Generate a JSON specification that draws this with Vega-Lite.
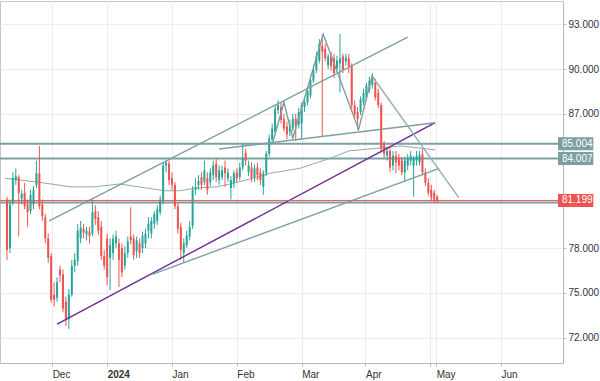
{
  "$schema": "https://vega.github.io/schema/vega-lite/v6.json",
  "width": 563,
  "height": 362,
  "autosize": {"type": "none"},
  "padding": {"left": 0, "top": 1, "right": 37, "bottom": 18},
  "background": "white",
  "config": {
    "view": {"stroke": "#c4c7cc"},
    "font": "Liberation Sans",
    "axis": {"labelFont": "Liberation Sans", "labelFontSize": 10, "labelColor": "#333333", "gridColor": "#ededed", "domainColor": "#b4b7bc", "tickColor": "#b4b7bc"}
  },
  "datasets": {
    "candles": [
      {"i":0,"o":81.26,"h":81.45,"l":77.21,"c":77.87,"d":"down"},
      {"i":1,"o":78.00,"h":81.26,"l":77.67,"c":80.93,"d":"up"},
      {"i":2,"o":81.06,"h":83.08,"l":80.87,"c":82.69,"d":"up"},
      {"i":3,"o":82.56,"h":83.35,"l":82.24,"c":82.82,"d":"up"},
      {"i":4,"o":82.76,"h":82.89,"l":78.78,"c":81.71,"d":"down"},
      {"i":5,"o":81.32,"h":81.91,"l":80.93,"c":81.65,"d":"up"},
      {"i":6,"o":81.71,"h":82.37,"l":80.61,"c":80.80,"d":"down"},
      {"i":7,"o":80.93,"h":81.26,"l":79.43,"c":80.41,"d":"down"},
      {"i":8,"o":80.48,"h":81.91,"l":80.28,"c":81.58,"d":"up"},
      {"i":9,"o":80.93,"h":82.17,"l":80.61,"c":81.91,"d":"up"},
      {"i":10,"o":82.24,"h":83.87,"l":82.04,"c":83.02,"d":"up"},
      {"i":11,"o":83.02,"h":84.85,"l":80.61,"c":80.80,"d":"down"},
      {"i":12,"o":80.93,"h":81.26,"l":79.82,"c":80.15,"d":"down"},
      {"i":13,"o":80.08,"h":80.28,"l":78.32,"c":78.65,"d":"down"},
      {"i":14,"o":78.65,"h":78.98,"l":77.02,"c":77.34,"d":"down"},
      {"i":15,"o":77.47,"h":77.67,"l":74.34,"c":74.54,"d":"down"},
      {"i":16,"o":74.87,"h":75.71,"l":74.08,"c":74.54,"d":"down"},
      {"i":17,"o":74.67,"h":76.04,"l":74.41,"c":75.71,"d":"up"},
      {"i":18,"o":76.56,"h":76.82,"l":75.71,"c":76.17,"d":"down"},
      {"i":19,"o":76.24,"h":76.56,"l":73.69,"c":73.95,"d":"down"},
      {"i":20,"o":74.41,"h":74.74,"l":72.78,"c":73.23,"d":"down"},
      {"i":21,"o":73.23,"h":75.26,"l":72.58,"c":74.87,"d":"up"},
      {"i":22,"o":74.87,"h":77.21,"l":74.74,"c":76.82,"d":"up"},
      {"i":23,"o":76.82,"h":77.67,"l":76.37,"c":77.21,"d":"up"},
      {"i":24,"o":77.15,"h":79.63,"l":76.82,"c":79.17,"d":"up"},
      {"i":25,"o":78.65,"h":79.82,"l":78.32,"c":79.37,"d":"up"},
      {"i":26,"o":79.30,"h":79.63,"l":78.65,"c":79.04,"d":"down"},
      {"i":27,"o":78.91,"h":79.43,"l":78.52,"c":79.17,"d":"up"},
      {"i":28,"o":79.11,"h":79.43,"l":78.32,"c":78.84,"d":"down"},
      {"i":29,"o":78.98,"h":81.26,"l":78.78,"c":80.41,"d":"up"},
      {"i":30,"o":80.48,"h":80.87,"l":79.56,"c":79.95,"d":"down"},
      {"i":31,"o":80.08,"h":80.48,"l":78.91,"c":79.17,"d":"down"},
      {"i":32,"o":79.43,"h":79.82,"l":77.21,"c":77.47,"d":"down"},
      {"i":33,"o":77.47,"h":77.87,"l":76.56,"c":76.82,"d":"down"},
      {"i":34,"o":78.65,"h":78.98,"l":75.52,"c":76.04,"d":"down"},
      {"i":35,"o":77.34,"h":78.65,"l":75.19,"c":78.19,"d":"up"},
      {"i":36,"o":77.67,"h":78.91,"l":77.21,"c":78.65,"d":"up"},
      {"i":37,"o":78.32,"h":79.17,"l":78.00,"c":78.78,"d":"up"},
      {"i":38,"o":78.32,"h":78.65,"l":75.39,"c":77.21,"d":"down"},
      {"i":39,"o":78.00,"h":78.32,"l":76.04,"c":76.37,"d":"down"},
      {"i":40,"o":76.82,"h":78.13,"l":76.56,"c":77.67,"d":"up"},
      {"i":41,"o":77.67,"h":78.78,"l":77.34,"c":78.45,"d":"up"},
      {"i":42,"o":78.78,"h":80.74,"l":78.26,"c":78.52,"d":"down"},
      {"i":43,"o":78.65,"h":78.91,"l":77.21,"c":77.54,"d":"down"},
      {"i":44,"o":77.80,"h":78.78,"l":77.34,"c":78.52,"d":"up"},
      {"i":45,"o":78.32,"h":78.65,"l":77.34,"c":77.67,"d":"down"},
      {"i":46,"o":78.00,"h":79.11,"l":77.67,"c":78.84,"d":"up"},
      {"i":47,"o":78.32,"h":79.30,"l":78.00,"c":78.98,"d":"up"},
      {"i":48,"o":79.17,"h":80.08,"l":78.65,"c":79.63,"d":"up"},
      {"i":49,"o":78.98,"h":80.08,"l":78.65,"c":79.82,"d":"up"},
      {"i":50,"o":79.63,"h":80.48,"l":79.30,"c":80.28,"d":"up"},
      {"i":51,"o":79.82,"h":80.87,"l":79.56,"c":80.61,"d":"up"},
      {"i":52,"o":80.41,"h":81.52,"l":80.21,"c":81.26,"d":"up"},
      {"i":53,"o":81.13,"h":83.74,"l":80.93,"c":83.54,"d":"up"},
      {"i":54,"o":83.54,"h":83.87,"l":83.08,"c":83.74,"d":"up"},
      {"i":55,"o":83.67,"h":83.87,"l":82.24,"c":82.56,"d":"down"},
      {"i":56,"o":82.69,"h":83.08,"l":81.91,"c":82.24,"d":"down"},
      {"i":57,"o":82.24,"h":82.43,"l":80.61,"c":80.80,"d":"down"},
      {"i":58,"o":80.80,"h":81.06,"l":78.98,"c":79.30,"d":"down"},
      {"i":59,"o":79.43,"h":79.69,"l":77.21,"c":77.87,"d":"down"},
      {"i":60,"o":77.67,"h":78.65,"l":77.02,"c":78.32,"d":"up"},
      {"i":61,"o":78.19,"h":79.17,"l":78.00,"c":78.84,"d":"up"},
      {"i":62,"o":78.78,"h":79.82,"l":78.52,"c":79.43,"d":"up"},
      {"i":63,"o":79.50,"h":82.17,"l":79.30,"c":81.91,"d":"up"},
      {"i":64,"o":81.91,"h":82.69,"l":81.58,"c":82.11,"d":"up"},
      {"i":65,"o":82.24,"h":82.89,"l":81.91,"c":82.50,"d":"up"},
      {"i":66,"o":82.76,"h":83.08,"l":81.91,"c":82.24,"d":"down"},
      {"i":67,"o":82.43,"h":83.87,"l":82.24,"c":83.22,"d":"up"},
      {"i":68,"o":82.69,"h":83.08,"l":81.58,"c":81.91,"d":"down"},
      {"i":69,"o":82.43,"h":83.35,"l":82.17,"c":83.08,"d":"up"},
      {"i":70,"o":82.89,"h":83.87,"l":82.56,"c":83.54,"d":"up"},
      {"i":71,"o":83.67,"h":84.00,"l":82.43,"c":82.76,"d":"down"},
      {"i":72,"o":82.56,"h":83.54,"l":82.24,"c":83.22,"d":"up"},
      {"i":73,"o":82.76,"h":83.54,"l":82.56,"c":83.22,"d":"up"},
      {"i":74,"o":83.41,"h":83.87,"l":82.11,"c":83.02,"d":"down"},
      {"i":75,"o":82.69,"h":83.35,"l":82.43,"c":83.08,"d":"up"},
      {"i":76,"o":82.04,"h":82.82,"l":81.26,"c":82.56,"d":"up"},
      {"i":77,"o":82.37,"h":83.22,"l":82.04,"c":83.02,"d":"up"},
      {"i":78,"o":83.08,"h":83.35,"l":82.43,"c":82.69,"d":"down"},
      {"i":79,"o":82.76,"h":83.74,"l":82.56,"c":83.41,"d":"up"},
      {"i":80,"o":83.41,"h":84.98,"l":83.22,"c":84.00,"d":"up"},
      {"i":81,"o":84.39,"h":84.65,"l":83.54,"c":83.87,"d":"down"},
      {"i":82,"o":83.08,"h":83.87,"l":82.82,"c":83.54,"d":"up"},
      {"i":83,"o":83.41,"h":83.74,"l":82.43,"c":82.69,"d":"down"},
      {"i":84,"o":82.76,"h":83.61,"l":82.43,"c":83.35,"d":"up"},
      {"i":85,"o":83.41,"h":83.74,"l":82.56,"c":82.89,"d":"down"},
      {"i":86,"o":83.08,"h":83.35,"l":82.24,"c":82.56,"d":"down"},
      {"i":87,"o":82.11,"h":83.22,"l":81.58,"c":83.02,"d":"up"},
      {"i":88,"o":83.02,"h":84.52,"l":82.82,"c":84.32,"d":"up"},
      {"i":89,"o":84.32,"h":85.63,"l":84.13,"c":85.37,"d":"up"},
      {"i":90,"o":85.30,"h":86.35,"l":85.04,"c":86.02,"d":"up"},
      {"i":91,"o":85.82,"h":87.59,"l":85.69,"c":87.32,"d":"up"},
      {"i":92,"o":87.26,"h":87.91,"l":87.00,"c":87.59,"d":"up"},
      {"i":93,"o":87.46,"h":87.78,"l":86.35,"c":86.61,"d":"down"},
      {"i":94,"o":86.67,"h":87.00,"l":85.82,"c":86.02,"d":"down"},
      {"i":95,"o":86.15,"h":86.48,"l":85.30,"c":85.63,"d":"down"},
      {"i":96,"o":85.82,"h":86.61,"l":85.50,"c":86.28,"d":"up"},
      {"i":97,"o":86.02,"h":87.00,"l":85.82,"c":86.67,"d":"up"},
      {"i":98,"o":86.67,"h":87.00,"l":85.17,"c":86.15,"d":"down"},
      {"i":99,"o":86.28,"h":87.39,"l":86.02,"c":87.13,"d":"up"},
      {"i":100,"o":86.35,"h":87.78,"l":85.30,"c":87.59,"d":"up"},
      {"i":101,"o":87.46,"h":88.04,"l":87.13,"c":87.78,"d":"up"},
      {"i":102,"o":87.78,"h":88.83,"l":87.59,"c":88.56,"d":"up"},
      {"i":103,"o":88.24,"h":89.54,"l":88.04,"c":89.28,"d":"up"},
      {"i":104,"o":89.22,"h":90.26,"l":89.09,"c":89.93,"d":"up"},
      {"i":105,"o":89.93,"h":91.17,"l":89.74,"c":90.85,"d":"up"},
      {"i":106,"o":90.59,"h":92.02,"l":90.39,"c":91.70,"d":"up"},
      {"i":107,"o":91.56,"h":92.35,"l":85.50,"c":91.17,"d":"down"},
      {"i":108,"o":91.37,"h":91.70,"l":90.52,"c":90.72,"d":"down"},
      {"i":109,"o":90.26,"h":91.04,"l":90.00,"c":90.85,"d":"up"},
      {"i":110,"o":90.91,"h":91.17,"l":89.87,"c":90.20,"d":"down"},
      {"i":111,"o":90.72,"h":91.04,"l":89.41,"c":89.74,"d":"down"},
      {"i":112,"o":90.06,"h":90.91,"l":89.87,"c":90.59,"d":"up"},
      {"i":113,"o":90.39,"h":92.35,"l":88.43,"c":90.72,"d":"up"},
      {"i":114,"o":90.85,"h":91.04,"l":89.74,"c":89.93,"d":"down"},
      {"i":115,"o":90.52,"h":91.04,"l":90.26,"c":90.78,"d":"up"},
      {"i":116,"o":90.72,"h":91.04,"l":89.74,"c":90.20,"d":"down"},
      {"i":117,"o":90.20,"h":90.39,"l":87.26,"c":87.59,"d":"down"},
      {"i":118,"o":87.59,"h":87.91,"l":86.74,"c":87.00,"d":"down"},
      {"i":119,"o":87.13,"h":87.46,"l":85.96,"c":86.67,"d":"down"},
      {"i":120,"o":87.13,"h":88.17,"l":86.93,"c":87.98,"d":"up"},
      {"i":121,"o":87.78,"h":88.69,"l":87.59,"c":88.43,"d":"up"},
      {"i":122,"o":88.11,"h":89.09,"l":87.91,"c":88.89,"d":"up"},
      {"i":123,"o":88.63,"h":89.48,"l":88.43,"c":89.22,"d":"up"},
      {"i":124,"o":88.96,"h":89.74,"l":88.69,"c":89.48,"d":"up"},
      {"i":125,"o":89.09,"h":89.35,"l":87.91,"c":88.11,"d":"down"},
      {"i":126,"o":88.43,"h":88.69,"l":87.39,"c":87.59,"d":"down"},
      {"i":127,"o":87.59,"h":87.78,"l":84.39,"c":84.65,"d":"down"},
      {"i":128,"o":84.98,"h":85.17,"l":84.06,"c":84.32,"d":"down"},
      {"i":129,"o":84.19,"h":84.78,"l":83.87,"c":84.52,"d":"up"},
      {"i":130,"o":84.52,"h":84.72,"l":83.08,"c":83.41,"d":"down"},
      {"i":131,"o":83.54,"h":84.52,"l":83.22,"c":84.19,"d":"up"},
      {"i":132,"o":84.19,"h":84.52,"l":83.02,"c":83.74,"d":"down"},
      {"i":133,"o":84.06,"h":84.32,"l":83.22,"c":83.54,"d":"down"},
      {"i":134,"o":83.87,"h":84.13,"l":82.89,"c":83.08,"d":"down"},
      {"i":135,"o":83.08,"h":84.13,"l":82.43,"c":83.87,"d":"up"},
      {"i":136,"o":83.54,"h":84.32,"l":83.22,"c":84.06,"d":"up"},
      {"i":137,"o":83.87,"h":84.52,"l":83.54,"c":84.19,"d":"up"},
      {"i":138,"o":83.54,"h":84.19,"l":81.45,"c":84.00,"d":"up"},
      {"i":139,"o":83.87,"h":84.52,"l":83.54,"c":84.19,"d":"up"},
      {"i":140,"o":83.74,"h":84.52,"l":83.54,"c":84.26,"d":"up"},
      {"i":141,"o":84.32,"h":84.65,"l":82.89,"c":83.08,"d":"down"},
      {"i":142,"o":83.08,"h":83.35,"l":82.17,"c":82.37,"d":"down"},
      {"i":143,"o":82.37,"h":82.69,"l":81.52,"c":81.71,"d":"down"},
      {"i":144,"o":81.91,"h":82.24,"l":81.13,"c":81.39,"d":"down"},
      {"i":145,"o":81.71,"h":81.91,"l":81.00,"c":81.26,"d":"down"},
      {"i":146,"o":81.45,"h":81.58,"l":81.06,"c":81.20,"d":"down"}
    ],
    "lines": [
      {"id":"channel","i":14.33,"p":79.82},{"id":"channel","i":136,"p":92.15},
      {"id":"support","i":17,"p":72.91},{"id":"support","i":145.33,"p":86.41},
      {"id":"lower","i":49.33,"p":76.24},{"id":"lower","i":146.67,"p":83.35},
      {"id":"neckline","i":72,"p":84.65},{"id":"neckline","i":145.33,"p":86.41},
      {"id":"downtrend","i":123.67,"p":89.61},{"id":"downtrend","i":153.33,"p":81.39},
      {"id":"pattern","i":90.33,"p":85.17},{"id":"pattern","i":94,"p":87.78},{"id":"pattern","i":97,"p":85.37},
      {"id":"pattern","i":107.33,"p":92.35},{"id":"pattern","i":119.33,"p":85.96},{"id":"pattern","i":124,"p":89.61}
    ],
    "ma": [
      {"i":-0.67,"p":82.69},{"i":10.33,"p":82.43},{"i":21.67,"p":82.11},{"i":29.33,"p":82.11},
      {"i":38.33,"p":82.30},{"i":47,"p":82.04},{"i":53.33,"p":81.85},{"i":58.67,"p":81.85},
      {"i":64.33,"p":82.04},{"i":71,"p":82.11},{"i":74.33,"p":82.24},{"i":83.67,"p":82.69},
      {"i":89.33,"p":83.02},{"i":99.33,"p":83.35},{"i":109.33,"p":84.00},{"i":116,"p":84.52},
      {"i":127,"p":84.72},{"i":133.67,"p":84.85},{"i":145.33,"p":84.59}
    ],
    "levels": [
      {"p":85.004,"label":"85.004","kind":"level"},
      {"p":84.007,"label":"84.007","kind":"level"},
      {"p":81.06,"label":"","kind":"base"},
      {"p":81.199,"label":"81.199","kind":"last"}
    ]
  },
  "resolve": {"scale": {"color": "independent"}},
  "layer": [
    {
      "data": {"name": "levels"},
      "transform": [{"filter": "datum.kind != 'last'"}],
      "mark": {"type": "rule", "stroke": "#7c9fa0", "strokeWidth": 2},
      "encoding": {
        "y": {"field": "p", "type": "quantitative", "scale": {"domain": [70.63, 94.24], "nice": false, "zero": false},
          "axis": {"orient": "right", "title": null, "values": [72, 75, 78, 87, 90, 93], "format": ".3f", "tickSize": 3, "labelPadding": 2, "grid": true}}
      }
    },
    {
      "data": {"name": "ma"},
      "mark": {"type": "line", "stroke": "#8eaaaa", "strokeWidth": 1},
      "encoding": {
        "x": {"field": "i", "type": "quantitative", "scale": {"domain": [-0.667, 187], "nice": false, "zero": false},
          "axis": {"title": null, "values": [15.33, 34, 56, 78, 100, 121.67, 143.67, 145.67, 167.67],
            "labelExpr": "datum.value < 20 ? 'Dec' : datum.value < 40 ? '2024' : datum.value < 60 ? 'Jan' : datum.value < 80 ? 'Feb' : datum.value < 110 ? 'Mar' : datum.value < 130 ? 'Apr' : datum.value < 145 ? '' : datum.value < 150 ? 'May' : 'Jun'",
            "labelFontWeight": {"condition": {"test": "datum.value > 30 && datum.value < 40", "value": "bold"}, "value": "normal"},
            "labelAlign": "left", "labelPadding": 3, "tickSize": 3, "labelOverlap": false, "labelFlush": false, "labelBound": false, "grid": true}},
        "y": {"field": "p", "type": "quantitative"}
      }
    },
    {
      "data": {"name": "candles"},
      "mark": {"type": "rule", "strokeWidth": 1},
      "encoding": {
        "x": {"field": "i", "type": "quantitative"},
        "y": {"field": "l", "type": "quantitative"},
        "y2": {"field": "h"},
        "color": {"field": "d", "type": "nominal", "scale": {"domain": ["up", "down"], "range": ["#26a69a", "#ef5350"]}, "legend": null}
      }
    },
    {
      "data": {"name": "candles"},
      "mark": {"type": "bar", "size": 2},
      "encoding": {
        "x": {"field": "i", "type": "quantitative"},
        "y": {"field": "o", "type": "quantitative"},
        "y2": {"field": "c"},
        "color": {"field": "d", "type": "nominal", "scale": {"domain": ["up", "down"], "range": ["#26a69a", "#ef5350"]}, "legend": null}
      }
    },
    {
      "data": {"name": "lines"},
      "mark": {"type": "line", "strokeWidth": 1.4},
      "encoding": {
        "x": {"field": "i", "type": "quantitative"},
        "y": {"field": "p", "type": "quantitative"},
        "detail": {"field": "id"},
        "color": {"field": "id", "type": "nominal", "scale": {"domain": ["channel", "support", "lower", "neckline", "downtrend", "pattern"], "range": ["#7c9fa0", "#6a2c91", "#7c9fa0", "#7c9fa0", "#93b0b0", "#7c9fa0"]}, "legend": null}
      }
    },
    {
      "data": {"name": "levels"},
      "transform": [{"filter": "datum.kind == 'last'"}],
      "mark": {"type": "rule", "stroke": "#ef5350", "strokeWidth": 1},
      "encoding": {"y": {"field": "p", "type": "quantitative"}}
    },
    {
      "data": {"name": "levels"},
      "transform": [{"filter": "datum.label != ''"}],
      "mark": {"type": "bar", "orient": "horizontal", "size": 13},
      "encoding": {
        "y": {"field": "p", "type": "quantitative"},
        "x": {"datum": 187},
        "x2": {"datum": 199},
        "color": {"field": "kind", "type": "nominal", "scale": {"domain": ["level", "last"], "range": ["#7c9fa0", "#ef5350"]}, "legend": null}
      }
    },
    {
      "data": {"name": "levels"},
      "transform": [{"filter": "datum.label != ''"}],
      "mark": {"type": "text", "align": "left", "baseline": "middle", "color": "white", "fontSize": 10, "dx": 1},
      "encoding": {
        "y": {"field": "p", "type": "quantitative"},
        "x": {"datum": 188},
        "text": {"field": "label"}
      }
    }
  ]
}
